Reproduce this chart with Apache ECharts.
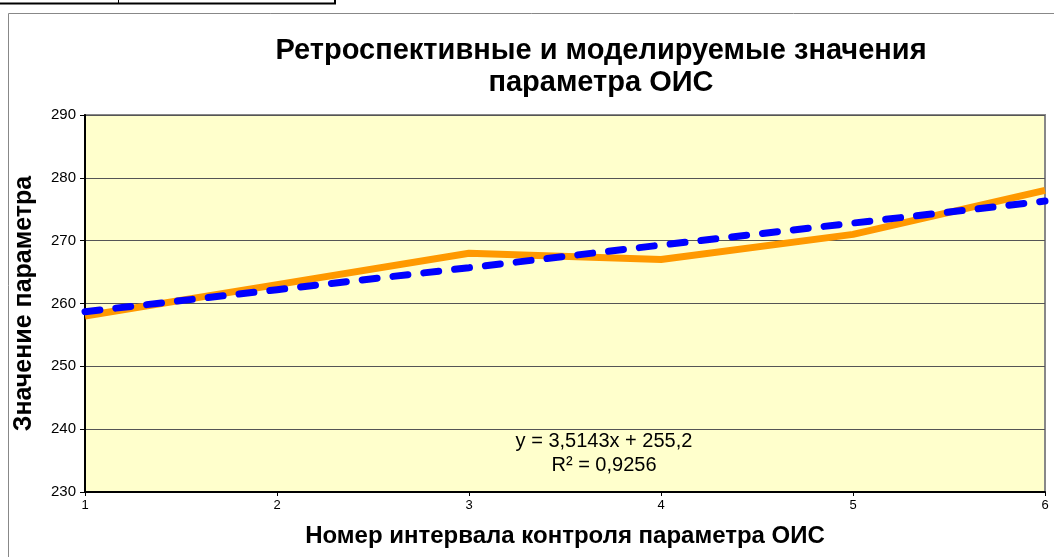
<!DOCTYPE html>
<html>
<head>
<meta charset="utf-8">
<script src="https://cdn.jsdelivr.net/npm/echarts@6/dist/echarts.min.js"></script>
<style>
  html, body { margin: 0; padding: 0; background: #fff; }
  #chart { width: 1054px; height: 557px; }
</style>
</head>
<body>
<div id="chart"></div>
<script>
// интервалы контроля
const intervals = [1, 2, 3, 4, 5, 6];
// ретроспективные значения параметра
const actual = [258, 263, 268, 267, 271, 278];
// линейный тренд (моделируемые значения)
const trend = [258.7, 262.2, 265.7, 269.3, 272.8, 276.3];
const yTicks = [230, 240, 250, 260, 270, 280, 290];

const chart = echarts.init(document.getElementById('chart'));
const font = 'Arial, "Liberation Sans", sans-serif';

const option = {
  animation: false,
  backgroundColor: '#fff',
  title: {
    text: 'Ретроспективные и моделируемые значения\nпараметра ОИС',
    left: 596,
    top: 30,
    textAlign: 'center',
    textStyle: {
      fontFamily: font,
      fontSize: 29,
      fontWeight: 'bold',
      color: '#000',
      lineHeight: 32,
    },
  },
  grid: {
    left: 85,
    right: 9,
    top: 115,
    bottom: 65,
    show: true,
    backgroundColor: '#FFFFCC',
    borderColor: '#888',
    borderWidth: 2,
  },
  xAxis: {
    type: 'value',
    min: 1,
    max: 6,
    interval: 1,
    name: 'Номер интервала контроля параметра ОИС',
    nameLocation: 'middle',
    nameGap: 32,
    nameTextStyle: {
      fontFamily: font,
      fontSize: 24,
      fontWeight: 'bold',
      color: '#000',
    },
    axisLine: { lineStyle: { color: '#000', width: 2 } },
    axisTick: { show: true, length: 4, lineStyle: { color: '#000' } },
    axisLabel: { fontFamily: font, fontSize: 13, color: '#000', margin: 7 },
    splitLine: { show: false },
  },
  yAxis: {
    type: 'value',
    min: yTicks[0],
    max: yTicks[yTicks.length - 1],
    interval: 10,
    name: 'Значение параметра',
    nameLocation: 'middle',
    nameGap: 48,
    nameTextStyle: {
      fontFamily: font,
      fontSize: 25,
      fontWeight: 'bold',
      color: '#000',
    },
    axisLine: { show: true, lineStyle: { color: '#000', width: 2 } },
    axisTick: { show: true, length: 5, inside: false, lineStyle: { color: '#000' } },
    axisLabel: { fontFamily: font, fontSize: 15, color: '#000', margin: 9 },
    splitLine: { show: true, lineStyle: { color: '#555', width: 1 } },
  },
  series: [
    {
      name: 'Ретроспективные',
      type: 'line',
      data: intervals.map((x, i) => [x, actual[i]]),
      symbol: 'none',
      lineStyle: { color: '#FF9900', width: 7 },
      z: 2,
    },
    {
      name: 'Тренд',
      type: 'line',
      data: intervals.map((x, i) => [x, trend[i]]),
      symbol: 'none',
      lineStyle: { color: '#0000FF', width: 7, type: [15, 16], cap: 'round' },
      z: 3,
    },
  ],
  graphic: [
    // рамка области диаграммы
    {
      type: 'rect',
      shape: { x: 8.5, y: 13.5, width: 1060, height: 560 },
      style: { fill: null, stroke: '#888', lineWidth: 1 },
      silent: true,
    },
    // фрагмент таблицы сверху
    {
      type: 'polyline',
      shape: { points: [[0, 3.5], [335, 3.5], [335, 0]] },
      style: { fill: null, stroke: '#000', lineWidth: 2 },
      silent: true,
    },
    {
      type: 'line',
      shape: { x1: 118.5, y1: 0, x2: 118.5, y2: 3 },
      style: { stroke: '#000', lineWidth: 1 },
      silent: true,
    },
    // уравнение тренда
    {
      type: 'text',
      x: 604,
      y: 429,
      style: {
        text: 'y = 3,5143x + 255,2\nR² = 0,9256',
        align: 'center',
        verticalAlign: 'top',
        font: '20px ' + font,
        fill: '#000',
        lineHeight: 24,
      },
      z: 10,
    },
  ],
};

chart.setOption(option);
</script>
</body>
</html>
